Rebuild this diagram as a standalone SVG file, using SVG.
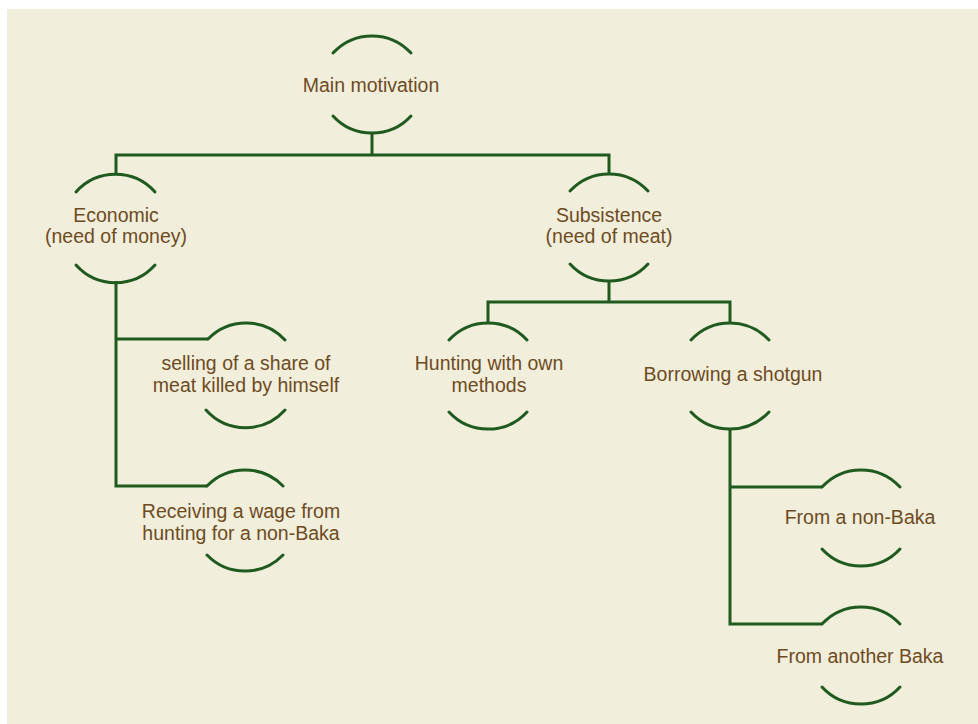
<svg xmlns="http://www.w3.org/2000/svg" width="978" height="724" viewBox="0 0 978 724">
<style>
.arc{fill:none;stroke:#1f5a1f;stroke-width:3;stroke-linecap:round}
.ln{fill:none;stroke:#1f5a1f;stroke-width:3;stroke-linejoin:miter}
text{font-family:"Liberation Sans",Arial,sans-serif;font-size:19.5px;fill:#6e4b1e;text-anchor:middle}
</style>
<rect x="0" y="0" width="978" height="724" fill="#ffffff"/>
<rect x="7" y="9" width="971" height="715" fill="#f2eedc"/>
<g id="connectors">
<path class="ln" d="M372,134 V155 M116,175 V155 H609 V173"/>
<path class="ln" d="M116,281 V486 H207 M116,339 H208"/>
<path class="ln" d="M609,282 V302 M488,322 V302 H730 V322"/>
<path class="ln" d="M730,428 V624 H822 M730,487 H822"/>
</g>
<g id="n-main">
<path class="arc" d="M333,53 A53,53 0 0 1 411,53"/>
<path class="arc" d="M333,116 A53,53 0 0 0 411,116"/>
<text x="371" y="92">Main motivation</text>
</g>
<g id="n-economic">
<path class="arc" d="M76,192 A53,53 0 0 1 155,192"/>
<path class="arc" d="M76,265 A53,53 0 0 0 155,265"/>
<text x="116" y="222">Economic</text>
<text x="116" y="243">(need of money)</text>
</g>
<g id="n-subsistence">
<path class="arc" d="M570,191 A53,53 0 0 1 648,191"/>
<path class="arc" d="M570,264 A53,53 0 0 0 648,264"/>
<text x="609" y="222">Subsistence</text>
<text x="609" y="243">(need of meat)</text>
</g>
<g id="n-selling">
<path class="arc" d="M208,339 A53,53 0 0 1 285,340"/>
<path class="arc" d="M206,410 A53,53 0 0 0 285,410"/>
<text x="246" y="370">selling of a share of</text>
<text x="246" y="392">meat killed by himself</text>
</g>
<g id="n-receiving">
<path class="arc" d="M207,486 A53,53 0 0 1 283,486"/>
<path class="arc" d="M207,555 A53,53 0 0 0 283,555"/>
<text x="241" y="518">Receiving a wage from</text>
<text x="241" y="540">hunting for a non-Baka</text>
</g>
<g id="n-hunting">
<path class="arc" d="M449,340 A53,53 0 0 1 527,340"/>
<path class="arc" d="M449,412 A53,53 0 0 0 527,412"/>
<text x="489" y="370">Hunting with own</text>
<text x="489" y="392">methods</text>
</g>
<g id="n-borrowing">
<path class="arc" d="M691,340 A53,53 0 0 1 769,340"/>
<path class="arc" d="M691,412 A53,53 0 0 0 769,412"/>
<text x="733" y="381">Borrowing a shotgun</text>
</g>
<g id="n-from-non-baka">
<path class="arc" d="M822,487 A53,53 0 0 1 900,487"/>
<path class="arc" d="M822,549 A53,53 0 0 0 900,549"/>
<text x="860" y="524">From a non-Baka</text>
</g>
<g id="n-from-another-baka">
<path class="arc" d="M822,624 A53,53 0 0 1 900,624"/>
<path class="arc" d="M822,687 A53,53 0 0 0 900,687"/>
<text x="860" y="663">From another Baka</text>
</g>
</svg>
